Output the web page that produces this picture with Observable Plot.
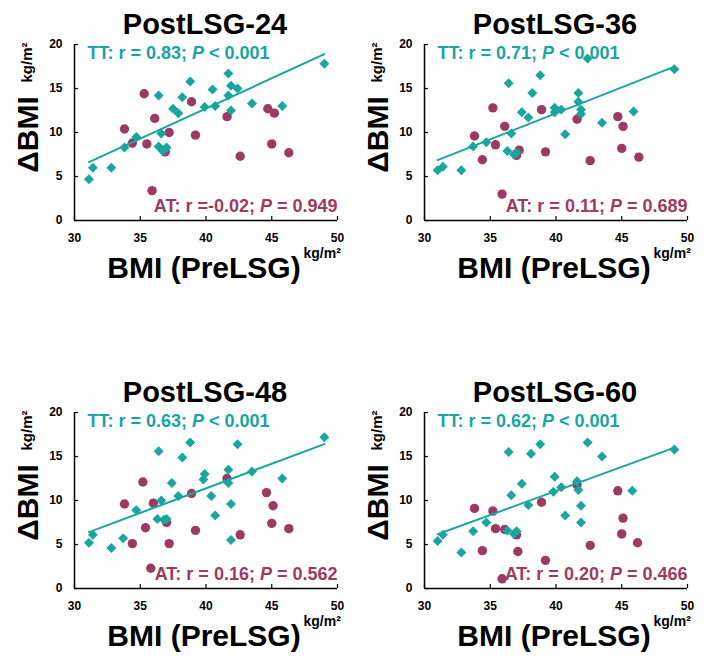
<!DOCTYPE html>
<html><head><meta charset="utf-8">
<script src="https://cdn.jsdelivr.net/npm/d3@7"></script>
<script src="https://cdn.jsdelivr.net/npm/@observablehq/plot@0.6"></script>
<style>
body{margin:0;background:#fff;}
#wrap{position:relative;width:705px;height:657px;overflow:hidden;}
.panel{position:absolute;}
</style></head><body><div id="wrap"></div>
<script>
const xTicks = [30, 35, 40, 45, 50];
const yTicks = [0, 5, 10, 15, 20];
const titles = ["PostLSG-24", "PostLSG-36", "PostLSG-48", "PostLSG-60"];
const ttLabels = ["TT: r = 0.83; P < 0.001", "TT: r = 0.71; P < 0.001", "TT: r = 0.63; P < 0.001", "TT: r = 0.62; P < 0.001"];
const atLabels = ["AT: r =-0.02; P = 0.949", "AT: r = 0.11; P = 0.689", "AT: r = 0.16; P = 0.562", "AT: r = 0.20; P = 0.466"];
const xLabel = "BMI (PreLSG)";
const yLabel = "ΔBMI";
const unit = "kg/m²";

// [BMI PreLSG, ΔBMI]
const tt24 = [[31.1,4.7],[31.4,6.0],[32.8,6.0],[33.8,8.3],[34.7,9.5],[36.4,14.2],[36.6,9.9],[36.4,8.4],[37.0,8.3],[36.7,7.9],[37.5,12.7],[37.9,12.2],[38.2,14.0],[38.8,15.8],[39.9,12.9],[40.5,14.9],[40.7,13.0],[41.7,16.7],[41.9,15.3],[42.4,15.0],[41.7,14.2],[41.9,12.5],[43.5,13.3],[45.8,13.0],[49.0,17.8]];
const at24 = [[35.3,14.4],[33.8,10.4],[34.4,8.8],[35.5,8.7],[36.1,11.6],[37.2,10.0],[36.9,7.8],[38.9,13.5],[39.2,9.7],[35.9,3.4],[41.6,11.8],[44.7,12.7],[45.2,12.2],[45.0,8.7],[42.6,7.3],[46.3,7.7]];
const tt36 = [[31.0,5.7],[31.4,6.1],[32.8,5.7],[33.7,8.4],[34.7,8.9],[36.4,15.6],[36.6,9.9],[36.3,7.9],[36.8,7.5],[37.0,7.7],[37.4,12.3],[37.9,11.7],[38.2,14.5],[38.8,16.5],[39.9,12.8],[39.9,12.3],[40.4,12.6],[42.4,18.4],[41.7,14.5],[41.7,13.5],[41.9,12.6],[41.9,12.1],[40.7,9.8],[43.5,11.1],[45.9,12.4],[49.0,17.2]];
const at36 = [[35.2,12.8],[33.8,9.6],[34.4,6.9],[35.4,8.6],[36.1,10.7],[37.2,8.0],[37.0,7.4],[38.9,12.6],[39.2,7.8],[35.9,3.0],[41.6,11.5],[44.7,11.8],[45.1,10.7],[45.0,8.2],[42.6,6.8],[46.3,7.2]];
const tt48 = [[31.1,5.2],[31.4,6.1],[32.8,4.6],[33.7,5.7],[34.7,8.9],[36.4,15.6],[36.6,10.0],[36.3,7.9],[36.8,7.8],[37.0,7.9],[37.4,12.0],[37.9,10.5],[38.2,14.9],[38.8,16.6],[39.9,13.0],[39.8,12.4],[40.4,10.5],[42.4,16.4],[41.7,13.5],[41.7,12.0],[43.5,13.3],[45.8,12.5],[41.9,9.6],[40.7,8.3],[41.9,5.5],[49.0,17.2]];
const at48 = [[35.2,12.1],[33.8,9.6],[34.4,5.1],[35.4,6.9],[36.0,9.7],[37.0,7.5],[37.2,5.1],[38.9,10.8],[39.2,6.6],[35.8,2.3],[41.6,12.5],[44.6,10.9],[45.1,9.4],[45.0,7.4],[42.6,6.1],[46.3,6.8]];
const tt60 = [[31.0,5.4],[31.4,6.1],[32.8,4.1],[33.7,6.5],[34.7,7.5],[36.4,15.5],[36.6,10.6],[36.3,6.6],[36.8,6.2],[37.0,6.5],[37.4,11.9],[37.9,9.5],[38.1,15.3],[38.8,16.4],[39.9,12.7],[39.8,11.0],[40.4,11.5],[42.4,16.6],[43.5,15.0],[41.6,12.2],[41.7,11.2],[41.9,9.4],[41.9,7.5],[40.7,8.3],[45.8,11.1],[49.0,15.8]];
const at60 = [[33.8,9.1],[35.2,8.8],[34.4,4.3],[35.4,6.8],[36.1,6.7],[37.0,6.1],[37.1,4.2],[38.9,9.8],[39.2,3.2],[35.9,1.1],[41.6,11.8],[44.7,11.1],[45.1,8.0],[45.0,6.2],[42.6,4.9],[46.2,5.2]];

const teal = "#18a69e";
const maroon = "#9d3a64";
const ttSets = [tt24, tt36, tt48, tt60];
const atSets = [at24, at36, at48, at60];
const pos = [[0,0],[350,0],[0,368],[350,368]];

function italicP(svg) {
  const ns = "http://www.w3.org/2000/svg";
  svg.querySelectorAll("text").forEach(t => {
    const s = t.textContent;
    if (!/^(TT|AT):/.test(s)) return;
    const target = t.querySelector("tspan") || t;
    const i = s.indexOf("P");
    target.textContent = "";
    target.appendChild(document.createTextNode(s.slice(0, i)));
    const it = document.createElementNS(ns, "tspan");
    it.setAttribute("font-style", "italic");
    it.textContent = "P";
    target.appendChild(it);
    target.appendChild(document.createTextNode(s.slice(i + 1)));
  });
}

const wrap = document.getElementById("wrap");
for (let k = 0; k < 4; k++) {
  const tt = ttSets[k], at = atSets[k];
  const svg = Plot.plot({
    width: 350, height: 290,
    marginTop: 44, marginLeft: 74, marginRight: 13, marginBottom: 70,
    x: {domain: [30, 50], ticks: xTicks, tickSize: 0, tickPadding: 13, label: null},
    y: {domain: [0, 20], ticks: yTicks, tickSize: 0, tickPadding: 12, label: null},
    style: {fontFamily: "'Liberation Sans', Arial, sans-serif", fontSize: "12px", fontWeight: "bold", color: "#000", background: "transparent", overflow: "visible"},
    marks: [
      Plot.ruleX([30], {x: d => d, stroke: "#000", strokeWidth: 1.5}),
      Plot.ruleY([0], {y: d => d, stroke: "#000", strokeWidth: 1.5}),
      Plot.tickX(xTicks, {x: d => d, insetTop: 172, stroke: "#000", strokeWidth: 1.2}),
      Plot.tickY(yTicks, {y: d => d, insetRight: 259, stroke: "#000", strokeWidth: 1.2}),
      Plot.dot(at, {x: d => d[0], y: d => d[1], r: 4.7, fill: maroon, stroke: "none"}),
      Plot.dot(tt, {x: d => d[0], y: d => d[1], r: 4.5, symbol: "diamond2", fill: teal, stroke: "none"}),
      Plot.linearRegressionY(tt, {x: d => d[0], y: d => d[1], stroke: teal, strokeWidth: 2, ci: 0}),
      Plot.text([titles[k]], {text: d => d, frameAnchor: "top", dx: -1, dy: -11, lineAnchor: "bottom", fontSize: 29, fontWeight: "bold", fill: "#000"}),
      Plot.text([ttLabels[k]], {text: d => d, frameAnchor: "top-left", dx: 13, dy: 14, lineAnchor: "bottom", textAnchor: "start", fontSize: 18, fontWeight: "bold", fill: teal}),
      Plot.text([atLabels[k]], {text: d => d, frameAnchor: "bottom-right", dx: 0, dy: -9, lineAnchor: "bottom", textAnchor: "end", fontSize: 18, fontWeight: "bold", fill: maroon}),
      Plot.text([xLabel], {text: d => d, frameAnchor: "bottom", dx: -2, dy: 57, lineAnchor: "bottom", fontSize: 30, fontWeight: "bold", fill: "#000"}),
      Plot.text([unit], {text: d => d, frameAnchor: "bottom-right", dx: -34, dy: 37, lineAnchor: "bottom", textAnchor: "start", fontSize: 14, fontWeight: "bold", fill: "#000"}),
      Plot.text([yLabel], {text: d => d, frameAnchor: "left", dx: -37, dy: 2, rotate: -90, lineAnchor: "bottom", textAnchor: "middle", fontSize: 30, fontWeight: "bold", fill: "#000"}),
      Plot.text([unit], {text: d => d, frameAnchor: "top-left", dx: -43, dy: 18, rotate: -90, lineAnchor: "bottom", textAnchor: "middle", fontSize: 15, fontWeight: "bold", fill: "#000"})
    ]
  });
  italicP(svg);
  svg.classList.add("panel");
  svg.style.left = pos[k][0] + "px";
  svg.style.top = pos[k][1] + "px";
  wrap.appendChild(svg);
}
</script></body></html>
